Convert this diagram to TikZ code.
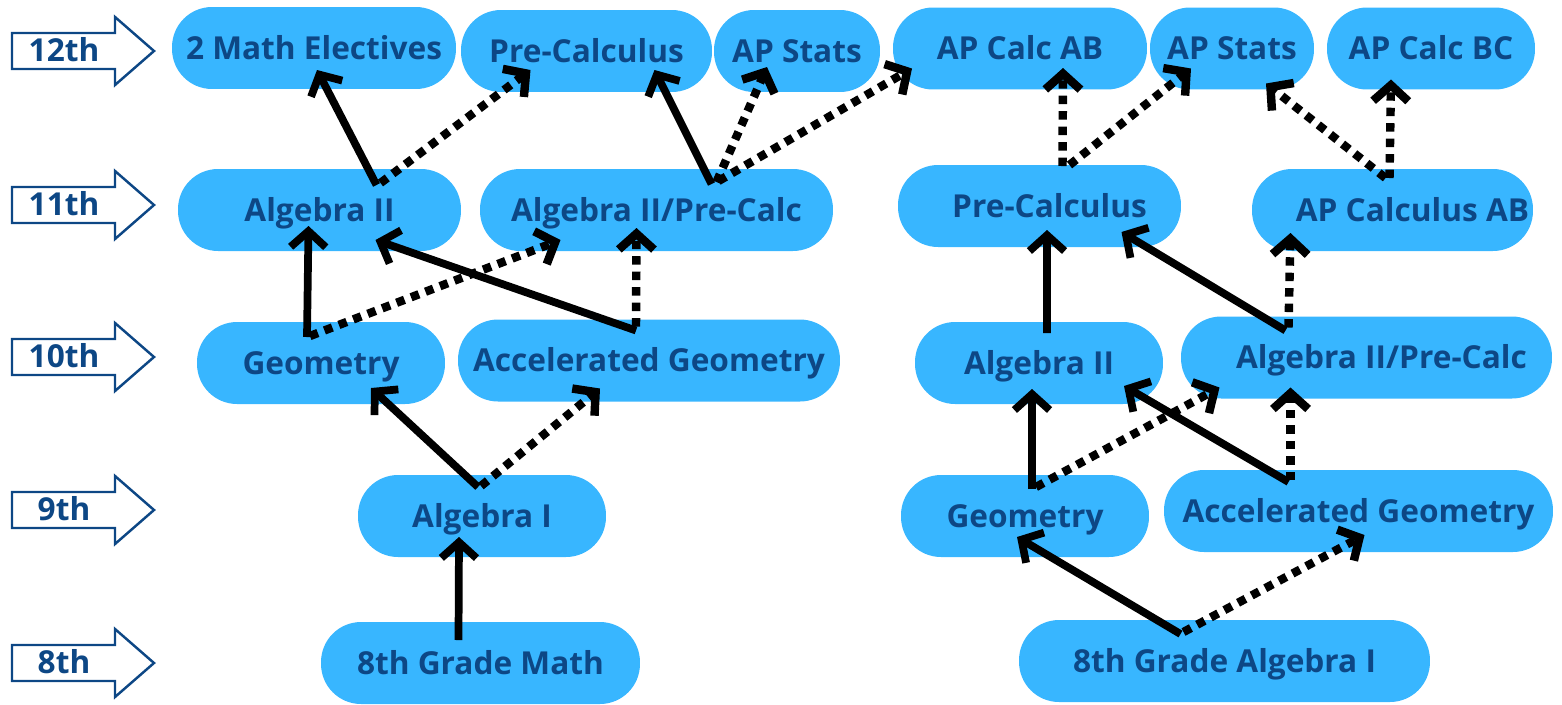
\documentclass[tikz,border=0pt]{standalone}
\usepackage{fontspec}
\setsansfont{Open Sans}
\usetikzlibrary{arrows.meta, calc}
\definecolor{pillblue}{HTML}{38B6FF}
\definecolor{navy}{HTML}{0D4785}

\begin{document}
\begin{tikzpicture}[
    x=0.02cm, y=-0.02cm,
    every node/.style={font=\sffamily\bfseries\fontsize{18}{22}\selectfont, text=navy},
    course/.style={rounded corners=0.8cm, fill=pillblue, minimum height=1.64cm, inner sep=0pt, text height=0.44cm, text depth=0cm},
    req/.style={-{Straight Barb[length=9pt, width=20pt]}, line width=4.4pt},
    opt/.style={-{Straight Barb[length=9pt, width=20pt]}, line width=4.8pt, dash pattern=on 4.8pt off 4pt},
    gradearrow/.style={draw=navy, line width=1.4pt, line join=miter},
]
\useasboundingbox (0,0) rectangle (1562,704);

% grade markers on the left
\foreach \yy/\gr in {51/12th, 205/11th, 357/10th, 510/9th, 663/8th} {
  \draw[gradearrow] (12,\yy-18) -- (115,\yy-18) -- (115,\yy-34) -- (154,\yy)
        -- (115,\yy+34) -- (115,\yy+18) -- (12,\yy+18) -- cycle;
  \node[font=\sffamily\bfseries\fontsize{18}{21}\selectfont, text height=0.43cm, text depth=0cm] (g\gr) at (64,\yy) {\gr};
}

% 12th grade
\node[course, minimum width=5.68cm] (mathel) at (314,48) {2 Math Electives};
\node[course, minimum width=5.02cm] (precalcA) at (586.5,51) {Pre-Calculus};
\node[course, minimum width=3.32cm] (statsA) at (797,51) {AP Stats};
\node[course, minimum width=5.08cm] (calcab) at (1020,48.5) {AP Calc AB};
\node[course, minimum width=3.28cm] (statsB) at (1232,48.5) {AP Stats};
\node[course, minimum width=4.16cm] (calcbc) at (1431,48.5) {AP Calc BC};

% 11th grade
\node[course, minimum width=5.66cm] (alg2A) at (319.5,210) {Algebra II};
\node[course, minimum width=7.06cm] (alg2pcA) at (656.5,210) {Algebra II/Pre-Calc};
\node[course, minimum width=5.66cm] (precalcB) at (1039.5,206) {\hspace{0.4cm}Pre-Calculus};
\node[course, minimum width=5.62cm] (apcalcab) at (1392.5,210) {\hspace{0.8cm}AP Calculus AB};

% 10th grade
\node[course, minimum width=4.96cm] (geomA) at (321,363) {Geometry};
\node[course, minimum width=7.64cm] (accgeomA) at (649,360.5) {Accelerated Geometry};
\node[course, minimum width=4.96cm] (alg2B) at (1039,363) {Algebra II};
\node[course, minimum width=7.42cm] (alg2pcB) at (1366.5,357.5) {\hspace{0.6cm}Algebra II/Pre-Calc};

% 9th grade
\node[course, minimum width=4.96cm] (alg1) at (482,516) {Algebra I};
\node[course, minimum width=4.96cm] (geomB) at (1025,516) {Geometry};
\node[course, minimum width=7.78cm] (accgeomB) at (1358.5,511) {Accelerated Geometry};

% 8th grade
\node[course, minimum width=6.38cm] (gr8math) at (480.5,663) {8th Grade Math};
\node[course, minimum width=8.22cm] (gr8alg1) at (1224.5,661) {8th Grade Algebra I};

% left pathway
\draw[req] ($(gr8math)+(-22,-23)$) -- ($(alg1)+(-23,21)$);
\draw[req] ($(alg1)+(-4,-29)$) -- ($(geomA)+(50,25)$);
\draw[opt] ($(alg1)+(-1,-30)$) -- ($(accgeomA)+(-49,28)$);
\draw[req] ($(geomA)+(-14,-26)$) -- ($(alg2A)+(-11,16)$);
\draw[opt] ($(geomA)+(-11,-27)$) -- ($(alg2pcA)+(-96,30)$);
\draw[req] ($(accgeomA)+(-13,-30)$) -- ($(alg2A)+(56,30)$);
\draw[opt] ($(accgeomA)+(-13,-34)$) -- ($(alg2pcA)+(-20,18)$);
\draw[req] ($(alg2A)+(57,-25)$) -- ($(mathel)+(3,22)$);
\draw[opt] ($(alg2A)+(61,-27)$) -- ($(precalcA)+(-56,19)$);
\draw[req] ($(alg2pcA)+(55,-26)$) -- ($(precalcA)+(68,19)$);
\draw[opt] ($(alg2pcA)+(60,-28)$) -- ($(statsA)+(-30,16)$);
\draw[opt] ($(alg2pcA)+(62,-29)$) -- ($(calcab)+(-108,20)$);

% right pathway
\draw[req] ($(gr8alg1)+(-44,-27)$) -- ($(geomB)+(-8,21)$);
\draw[opt] ($(gr8alg1)+(-41,-29)$) -- ($(accgeomB)+(6,24)$);
\draw[req] ($(geomB)+(7,-27)$) -- ($(alg2B)+(-7,26)$);
\draw[opt] ($(geomB)+(11,-29)$) -- ($(alg2pcB)+(-147,30)$);
\draw[req] ($(accgeomB)+(-70,-29)$) -- ($(alg2B)+(85,23)$);
\draw[opt] ($(accgeomB)+(-68,-31)$) -- ($(alg2pcB)+(-76,30)$);
\draw[req] ($(alg2B)+(8,-30)$) -- ($(precalcB)+(7.5,24)$);
\draw[req] ($(alg2pcB)+(-81,-27)$) -- ($(precalcB)+(82,26)$);
\draw[opt] ($(alg2pcB)+(-78,-30)$) -- ($(apcalcab)+(-102,23)$);
\draw[opt] ($(precalcB)+(23,-40)$) -- ($(calcab)+(43,19.5)$);
\draw[opt] ($(precalcB)+(30,-41)$) -- ($(statsB)+(-41,20)$);
\draw[opt] ($(apcalcab)+(-7,-32)$) -- ($(statsB)+(34,35)$);
\draw[opt] ($(apcalcab)+(-3,-32)$) -- ($(calcbc)+(-40,31)$);

\end{tikzpicture}
\end{document}
